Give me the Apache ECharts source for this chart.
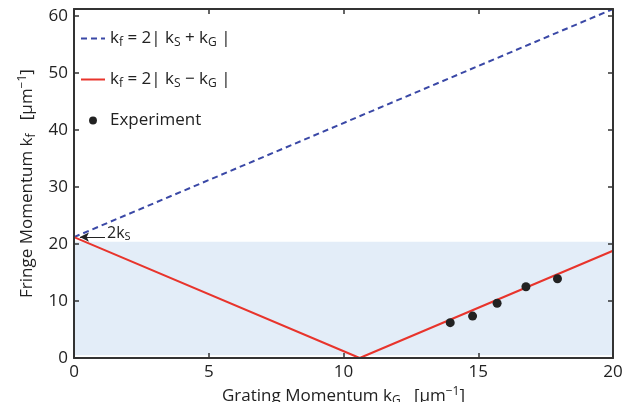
<!DOCTYPE html>
<html>
<head>
<meta charset="utf-8">
<script src="https://cdn.jsdelivr.net/npm/echarts@6/dist/echarts.min.js"></script>
<style>
  html, body { margin: 0; padding: 0; background: #fff; }
  #chart { width: 630px; height: 402px; }
</style>
</head>
<body>
<div id="chart"></div>
<script>
// data
const kS2 = 21.2                       // 2k_S, where both curves start
const sumLine = [[0, 21.2], [20, 61.2]]             // k_f = 2|k_S + k_G|
const diffLine = [[0, 21.2], [10.6, 0], [20, 18.8]] // k_f = 2|k_S - k_G|
const expKG = [13.96, 14.79, 15.7, 16.77, 17.94]
const expKF = [6.2, 7.35, 9.6, 12.5, 13.9]
const bandRange = [0.5, 20.4]          // shaded region on k_f
const xTicks = [0, 20, 5]              // min, max, interval
const yTicks = [0, 61.2, 10]

const FONT = '"Open Sans", "Noto Sans", sans-serif'
const AX = '#333'
const BLUE = '#3a48a6'
const RED = '#e8342c'

const rich = {
  n: { fontSize: 17, fontFamily: FONT, color: '#222' },
  sub: { fontSize: 12, fontFamily: FONT, color: '#222', padding: [9, 0, 0, 0] },
  sup: { fontSize: 12, fontFamily: FONT, color: '#222', padding: [0, 0, 9, 0] }
}

const legendText = {
  sum: '{n|k}{sub|f}{n| = 2| k}{sub|S}{n| + k}{sub|G}{n| |}',
  diff: '{n|k}{sub|f}{n| = 2| k}{sub|S}{n| − k}{sub|G}{n| |}',
  exp: '{n|Experiment}'
}

const chart = echarts.init(document.getElementById('chart'))

// fresh axis pieces for every axis
function axisBase(range, pos) {
  return {
    type: 'value',
    min: range[0],
    max: range[1],
    interval: range[2],
    position: pos,
    z: 10,
    axisLine: { show: true, onZero: false, lineStyle: { color: AX, width: 2 } },
    axisTick: { show: true, inside: true, length: 5, lineStyle: { color: AX, width: 1.5 } },
    splitLine: { show: false }
  }
}

const xBottom = axisBase(xTicks, 'bottom')
xBottom.axisLabel = { color: '#222', fontSize: 17, fontFamily: FONT, margin: 6 }
xBottom.name = '{n|Grating Momentum k}{sub|G}{n|   [μm}{sup|−1}{n|]}'
xBottom.nameLocation = 'middle'
xBottom.nameGap = 20
xBottom.nameTextStyle = { rich: rich }

const xTop = axisBase(xTicks, 'top')
xTop.axisLabel = { show: false }

const yLeft = axisBase(yTicks, 'left')
yLeft.axisLabel = { color: '#222', fontSize: 17, fontFamily: FONT, margin: 6, showMaxLabel: false }
yLeft.name = '{n|Fringe Momentum k}{sub|f}{n|   [μm}{sup|−1}{n|]}'
yLeft.nameLocation = 'middle'
yLeft.nameGap = 34
yLeft.nameTextStyle = { rich: rich }

const yRight = axisBase(yTicks, 'right')
yRight.axisLabel = { show: false }

chart.setOption({
  animation: false,
  grid: {
    left: 74, right: 17, top: 9, bottom: 44,
    containLabel: false,
    outerBoundsMode: 'none'
  },
  legend: {
    orient: 'vertical',
    left: 80,
    top: 30,
    padding: 0,
    itemGap: 22,
    itemWidth: 24,
    itemHeight: 14,
    data: [
      { name: 'sum', itemStyle: { opacity: 0 } },
      { name: 'diff', itemStyle: { opacity: 0 } },
      { name: 'exp', icon: 'path://M0,0M16,16M8,3.5A4.5,4.5,0,1,1,7.99,3.5Z', itemStyle: { color: '#222' } }
    ],
    formatter: name => legendText[name],
    textStyle: { rich: rich }
  },
  xAxis: [xBottom, xTop],
  yAxis: [yLeft, yRight],
  series: [
    {
      name: 'band',
      type: 'line',
      data: [],
      z: 1,
      markArea: {
        silent: true,
        itemStyle: { color: '#e3edf8' },
        data: [[{ xAxis: xTicks[0], yAxis: bandRange[0] }, { xAxis: xTicks[1], yAxis: bandRange[1] }]]
      }
    },
    {
      name: 'sum',
      type: 'line',
      data: sumLine,
      symbol: 'none',
      lineStyle: { color: BLUE, width: 2, type: [6, 4] },
      itemStyle: { color: BLUE }
    },
    {
      name: 'diff',
      type: 'line',
      data: diffLine,
      symbol: 'none',
      lineStyle: { color: RED, width: 2 },
      itemStyle: { color: RED },
      markLine: {
        silent: true,
        symbol: ['none', 'arrow'],
        symbolSize: [7, 9],
        lineStyle: { color: '#222', width: 1, type: 'solid' },
        label: {
          show: true,
          position: 'start',
          distance: 2,
          formatter: '{n|2k}{sub|S}',
          rich: { n: { fontSize: 16, fontFamily: FONT, color: '#222' }, sub: { fontSize: 11, fontFamily: FONT, color: '#222', padding: [8, 0, 0, 0] } },
          offset: [0, -4]
        },
        data: [[{ coord: [1.15, kS2] }, { coord: [0.22, kS2] }]]
      }
    },
    {
      name: 'exp',
      type: 'scatter',
      data: expKG.map((x, i) => [x, expKF[i]]),
      symbol: 'circle',
      symbolSize: 9,
      itemStyle: { color: '#222', opacity: 1 },
      z: 5
    }
  ]
})
</script>
</body>
</html>
